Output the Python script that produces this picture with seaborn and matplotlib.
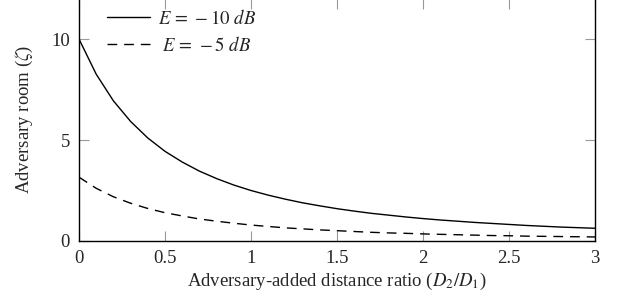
import numpy as np
import pandas as pd
import matplotlib
matplotlib.use("Agg")
import matplotlib.pyplot as plt
import seaborn as sns

# distance ratio D2/D1
ratio = [0.0, 0.1, 0.2, 0.3, 0.4, 0.5, 0.6, 0.7, 0.8, 0.9, 1.0,
         1.1, 1.2, 1.3, 1.4, 1.5, 1.6, 1.7, 1.8, 1.9, 2.0,
         2.1, 2.2, 2.3, 2.4, 2.5, 2.6, 2.7, 2.8, 2.9, 3.0]
# adversary room, E = -10 dB
room_m10 = [10.0, 8.26, 6.94, 5.92, 5.10, 4.44, 3.91, 3.46, 3.09, 2.77, 2.50,
            2.27, 2.07, 1.89, 1.74, 1.60, 1.48, 1.37, 1.28, 1.19, 1.11,
            1.04, 0.98, 0.92, 0.87, 0.82, 0.77, 0.73, 0.69, 0.66, 0.63]
# adversary room, E = -5 dB
room_m5 = [3.16, 2.61, 2.19, 1.87, 1.61, 1.40, 1.24, 1.09, 0.98, 0.88, 0.79,
           0.72, 0.65, 0.60, 0.55, 0.51, 0.47, 0.43, 0.40, 0.38, 0.35,
           0.33, 0.31, 0.29, 0.27, 0.26, 0.24, 0.23, 0.22, 0.21, 0.20]

x_ticks = [0, 0.5, 1, 1.5, 2, 2.5, 3]
x_ticklabels = ["0", "0.5", "1", "1.5", "2", "2.5", "3"]
y_ticks = [0, 5, 10]

sns.set_style("ticks")
plt.rcParams["font.family"] = ["Liberation Serif", "DejaVu Serif"]
plt.rcParams["mathtext.fontset"] = "stix"

fs = 13.5
fig = plt.figure(figsize=(6.18, 3.02), dpi=100)
ax = fig.add_axes([0.1278, 0.202, 0.835, 0.8026])

sns.lineplot(x=ratio, y=room_m10, ax=ax, color="black", linewidth=1.0,
             label=r"$E\,=\,-10\ dB$")
sns.lineplot(x=ratio, y=room_m5, ax=ax, color="black", linewidth=1.0,
             linestyle=(0, (7, 5)), label=r"$\ E\,=\,-5\ dB$")

ax.set_xlim(0, 3)
ax.set_ylim(0, 12)
ax.set_xticks(x_ticks)
ax.set_xticklabels(x_ticklabels)
ax.set_yticks(y_ticks)
ax.tick_params(direction="in", length=7, width=0.8, color="#999999",
               top=True, right=True, labelsize=fs)
ax.tick_params(axis="x", pad=6.5)
ax.tick_params(axis="y", pad=6.5)
for s in ax.spines.values():
    s.set_color("black")
    s.set_linewidth(1.0)

ax.set_xlabel(r"Adversary-added distance ratio ($D_2/D_1$)", fontsize=fs, labelpad=3)
ax.set_ylabel(r"Adversary room ($\zeta$)", fontsize=fs, labelpad=12)

leg = ax.legend(loc="upper left", frameon=False, fontsize=fs,
                bbox_to_anchor=(0.04, 0.988), handlelength=2.3,
                handletextpad=0.4, borderaxespad=0.0, labelspacing=0.4)

fig.savefig("out.png", dpi=100)
